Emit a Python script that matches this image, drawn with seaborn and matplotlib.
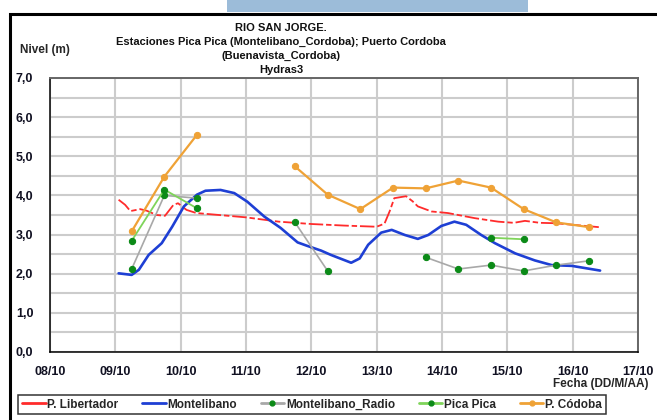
import matplotlib
matplotlib.use("Agg")
import matplotlib.pyplot as plt
import matplotlib.ticker as mticker
from matplotlib.lines import Line2D
from matplotlib.patches import Rectangle
import seaborn as sns
import pandas as pd

# ---------------- data (day of October, level in m) ----------------
libertador_x = [9.05, 9.15, 9.23, 9.38, 9.48, 9.63, 9.76, 9.89, 9.96, 10.09, 10.24, 10.45,
                11.0, 11.5, 12.0, 12.5, 13.0, 13.12, 13.2, 13.27, 13.45, 13.55, 13.63, 13.84,
                14.09, 14.5, 14.86, 15.1, 15.27, 15.5, 15.73, 16.0, 16.4]
libertador_y = [3.89, 3.76, 3.60, 3.65, 3.61, 3.50, 3.48, 3.76, 3.80, 3.63, 3.55, 3.52,
                3.44, 3.33, 3.27, 3.23, 3.20, 3.28, 3.60, 3.93, 3.98, 3.85, 3.72, 3.59,
                3.55, 3.42, 3.33, 3.30, 3.35, 3.30, 3.29, 3.25, 3.19]

montelibano_x = [9.05, 9.25, 9.36, 9.51, 9.71, 9.87, 10.05, 10.25, 10.38, 10.61, 10.82, 11.02,
                 11.28, 11.53, 11.79, 11.94, 12.15, 12.3, 12.61, 12.74, 12.87, 13.07, 13.23,
                 13.43, 13.63, 13.79, 13.99, 14.19, 14.37, 14.6, 14.81, 15.12, 15.42, 15.68,
                 15.99, 16.42]
montelibano_y = [2.01, 1.97, 2.10, 2.48, 2.78, 3.20, 3.72, 4.02, 4.12, 4.14, 4.06, 3.84,
                 3.46, 3.17, 2.80, 2.71, 2.59, 2.48, 2.28, 2.39, 2.74, 3.05, 3.12,
                 2.99, 2.89, 2.99, 3.22, 3.33, 3.25, 2.99, 2.78, 2.52, 2.34, 2.22,
                 2.20, 2.08]

radio_x = [9.25, 9.75, 10.25, 11.75, 12.25, 13.75, 14.25, 14.75, 15.25, 15.75, 16.25]
radio_y = [2.12, 4.00, 3.93, 3.31, 2.07, 2.42, 2.12, 2.22, 2.07, 2.22, 2.33]
radio_seg = [1, 1, 1, 2, 2, 3, 3, 3, 3, 3, 3]

pica_x = [9.25, 9.75, 10.25, 14.75, 15.25]
pica_y = [2.84, 4.15, 3.67, 2.92, 2.88]
pica_seg = [1, 1, 1, 2, 2]

cordoba_x = [9.25, 9.75, 10.25, 11.75, 12.25, 12.75, 13.25, 13.75, 14.25, 14.75, 15.25,
             15.75, 16.25]
cordoba_y = [3.08, 4.48, 5.55, 4.74, 4.02, 3.65, 4.20, 4.18, 4.38, 4.20, 3.65, 3.31, 3.19]
cordoba_seg = [1, 1, 1, 2, 2, 2, 2, 2, 2, 2, 2, 2, 2]

series_names = ["P. Libertador", "Montelibano", "Montelibano_Radio", "Pica Pica", "P. Códoba"]
day_ticks = list(range(8, 18))
y_ticks = [0, 1, 2, 3, 4, 5, 6, 7]

# ---------------- style ----------------
sns.set_theme(style="white")
plt.rcParams["font.family"] = ["Liberation Sans", "DejaVu Sans"]
plt.rcParams["font.weight"] = "bold"

RED = "#ff2b2b"
BLUE = "#1e3fd4"
GRAY = "#a8a8a8"
GREEN = "#7fd45a"
DGREEN = "#0b8a17"
ORANGE = "#efa236"

fig = plt.figure(figsize=(6.57, 4.20), dpi=100)
ax = fig.add_axes([50 / 657, 1 - 352 / 420, 588 / 657, 274 / 420])

# grid
ax.set_xlim(8, 17)
ax.set_ylim(0, 7)
ax.xaxis.set_major_locator(mticker.FixedLocator(day_ticks))
ax.yaxis.set_major_locator(mticker.FixedLocator(y_ticks))
ax.yaxis.set_minor_locator(mticker.MultipleLocator(0.5))
ax.grid(True, which="major", axis="x", color="#cccccc", lw=1.5)
ax.grid(True, which="both", axis="y", color="#cccccc", lw=1.5)
ax.set_axisbelow(True)

# lines
sns.lineplot(x=libertador_x, y=libertador_y, ax=ax, color=RED, lw=1.3,
             linestyle=(0, (8, 1.6, 3, 1.6)), estimator=None, sort=False, legend=False)
sns.lineplot(x=montelibano_x, y=montelibano_y, ax=ax, color=BLUE, lw=1.9,
             estimator=None, sort=False, legend=False)

df_radio = pd.DataFrame({"x": radio_x, "y": radio_y, "s": radio_seg})
df_pica = pd.DataFrame({"x": pica_x, "y": pica_y, "s": pica_seg})
df_cord = pd.DataFrame({"x": cordoba_x, "y": cordoba_y, "s": cordoba_seg})

for df, lc, mc, lw in [(df_radio, GRAY, DGREEN, 1.2),
                       (df_pica, GREEN, DGREEN, 1.3),
                       (df_cord, ORANGE, ORANGE, 1.6)]:
    for _, g in df.groupby("s"):
        sns.lineplot(data=g, x="x", y="y", ax=ax, color=lc, lw=lw, marker="o",
                     markersize=4.5, markerfacecolor=mc, markeredgecolor=mc,
                     estimator=None, sort=False, legend=False)

# ticks
ax.xaxis.set_major_formatter(mticker.FuncFormatter(lambda v, p: f"{int(round(v)):02d}/10"))
ax.yaxis.set_major_formatter(mticker.FuncFormatter(lambda v, p: f"{v:.1f}".replace(".", ",")))
ax.tick_params(axis="both", which="major", direction="out", length=4, width=1,
               color="black", labelsize=9, pad=3, labelcolor="#111122")
ax.tick_params(axis="y", which="minor", length=0)
ax.tick_params(axis="x", pad=6)
ax.tick_params(axis="y", pad=8)
for lab in ax.get_xticklabels() + ax.get_yticklabels():
    lab.set_fontweight("bold")
ax.set_xlabel("")
ax.set_ylabel("")

for side in ["left", "bottom"]:
    ax.spines[side].set_color("black")
    ax.spines[side].set_linewidth(1.1)
for side in ["top", "right"]:
    ax.spines[side].set_color("#666666")
    ax.spines[side].set_linewidth(1.4)

# titles and axis captions
title_lines = ["RIO SAN JORGE.",
               "Estaciones Pica Pica (Montelibano_Cordoba); Puerto Cordoba",
               "(Buenavista_Cordoba)",
               "Hydras3"]
for i, t in enumerate(title_lines):
    fig.text(281 / 657, 1 - (28 + 14 * i) / 420, t, ha="center", va="center",
             fontsize=8, fontweight="bold", color="#111111")
fig.text(20 / 657, 1 - 50 / 420, "Nivel (m)", ha="left", va="center",
         fontsize=8.5, fontweight="bold")
fig.text(553 / 657, 1 - 384 / 420, "Fecha (DD/M/AA)", ha="left", va="center",
         fontsize=8.5, fontweight="bold")

# figure frame and top bar
fig.patches.append(Rectangle((10 / 657, -0.05), 1.2, 1 - 13.5 / 420 + 0.05,
                             transform=fig.transFigure, fill=False,
                             edgecolor="black", lw=2.2))
fig.patches.append(Rectangle((227 / 657, 1 - 12 / 420), 301 / 657, 12 / 420,
                             transform=fig.transFigure, facecolor="#9cbcd9",
                             edgecolor="none"))

# legend
handles = [
    Line2D([], [], color=RED, lw=2),
    Line2D([], [], color=BLUE, lw=2),
    Line2D([], [], color=GRAY, lw=2, marker="o", markersize=3.5,
           markerfacecolor=DGREEN, markeredgecolor=DGREEN),
    Line2D([], [], color=GREEN, lw=2, marker="o", markersize=3.5,
           markerfacecolor=DGREEN, markeredgecolor=DGREEN),
    Line2D([], [], color=ORANGE, lw=2, marker="o", markersize=3.5,
           markerfacecolor=ORANGE, markeredgecolor=ORANGE),
]
leg = fig.legend(handles, series_names, loc="center", bbox_to_anchor=(312 / 657, 1 - 404.5 / 420),
                 ncol=5, frameon=True, fancybox=False, edgecolor="black",
                 prop={"size": 8.5, "weight": "bold"}, handlelength=2.0,
                 handletextpad=0.15, columnspacing=2.0, borderpad=0.3)
leg.get_frame().set_linewidth(1.1)

fig.savefig("out.png", dpi=100)
